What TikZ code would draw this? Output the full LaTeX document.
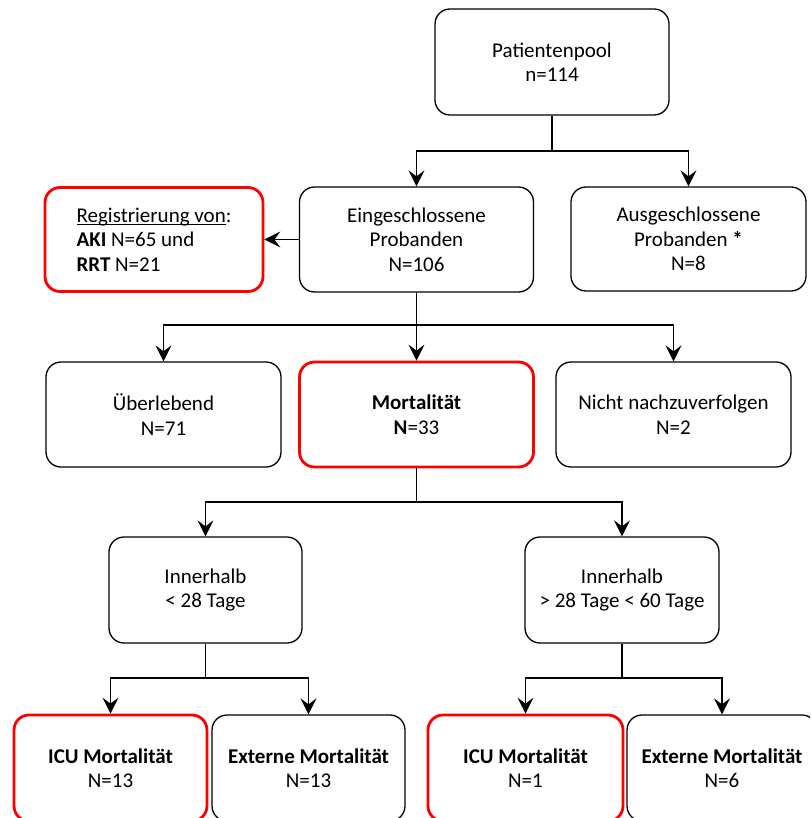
\documentclass[tikz,border=0pt]{standalone}
\usepackage{fontspec}
\setmainfont{Carlito}
\usetikzlibrary{arrows.meta}
\newcommand{\regline}[1]{\setbox0\hbox{#1}\rlap{\rule[-2.5pt]{\wd0}{1.2pt}}\box0}

\begin{document}
\begin{tikzpicture}[yscale=-1
,box/.style={draw=black,line width=1.3pt,rounded corners=15pt,align=center,inner sep=0pt,font=\fontsize{21}{24.5}\selectfont}
,redbox/.style={box,draw=red,line width=2.8pt}
,conn/.style={color=black,line width=1.3pt}
,arr/.style={conn,-{Stealth[length=16pt,width=16pt,inset=6pt]}}
]
\useasboundingbox (0pt,0pt) rectangle (810pt,818pt);
\clip (0pt,0pt) rectangle (810pt,818pt);
\node[box,minimum width=234pt,minimum height=106pt] (pool) at (552pt,62pt) {Patientenpool\\n=114};
\node[box,minimum width=234pt,minimum height=105pt] (ein) at (416.5pt,239.5pt) {Eingeschlossene\\Probanden\\N=106};
\node[box,minimum width=235pt,minimum height=104pt] (aus) at (688.5pt,239pt) {Ausgeschlossene\\Probanden \textbf{*}\\N=8};
\node[redbox,align=left,minimum width=218pt,minimum height=104pt] (reg) at (154pt,239.5pt) {\regline{Registrierung von}:\\\textbf{AKI} N=65 und\\\textbf{RRT} N=21};
\node[box,minimum width=235pt,minimum height=105pt] (surv) at (163.5pt,414.5pt) {Überlebend\\N=71};
\node[redbox,minimum width=234pt,minimum height=105pt] (mort) at (416.5pt,414.5pt) {\textbf{Mortalität}\\\textbf{N}=33};
\node[box,minimum width=235pt,minimum height=105pt] (lost) at (673.5pt,414.5pt) {Nicht nachzuverfolgen\\N=2};
\node[box,minimum width=193pt,minimum height=106pt] (early) at (205.5pt,590pt) {Innerhalb\\< 28 Tage};
\node[box,minimum width=194pt,minimum height=106pt] (late) at (622pt,590pt) {Innerhalb\\> 28 Tage < 60 Tage};
\node[redbox,minimum width=193pt,minimum height=106pt] (icuA) at (110.5pt,768pt) {\textbf{ICU Mortalität}\\N=13};
\node[box,minimum width=193pt,minimum height=106pt] (extA) at (308.5pt,768pt) {\textbf{Externe Mortalität}\\N=13};
\node[redbox,minimum width=195pt,minimum height=106pt] (icuB) at (525.5pt,768pt) {\textbf{ICU Mortalität}\\N=1};
\node[box,minimum width=190pt,minimum height=106pt] (extB) at (722pt,768pt) {\textbf{Externe Mortalität}\\N=6};
% splits
\coordinate (s1) at (pool.south |- 0pt,151pt);
\coordinate (s2) at (ein.south |- 0pt,325pt);
\coordinate (s3) at (mort.south |- 0pt,502pt);
\coordinate (s4) at (early.south |- 0pt,678pt);
\coordinate (s5) at (late.south |- 0pt,678pt);
\draw[conn] (pool.south) -- (s1);
\draw[arr] (s1) -| (ein.north);
\draw[arr] (s1) -| (aus.north);
\draw[arr] (ein.west) -- (reg.east);
\draw[conn] (ein.south) -- (s2);
\draw[arr] (s2) -| (surv.north);
\draw[arr] (s2) -- (mort.north);
\draw[arr] (s2) -| (lost.north);
\draw[conn] (mort.south) -- (s3);
\draw[arr] (s3) -| (early.north);
\draw[arr] (s3) -| (late.north);
\draw[conn] (early.south) -- (s4);
\draw[arr] (s4) -| (icuA.north);
\draw[arr] (s4) -| (extA.north);
\draw[conn] (late.south) -- (s5);
\draw[arr] (s5) -| (icuB.north);
\draw[arr] (s5) -| (extB.north);
\end{tikzpicture}
\end{document}
